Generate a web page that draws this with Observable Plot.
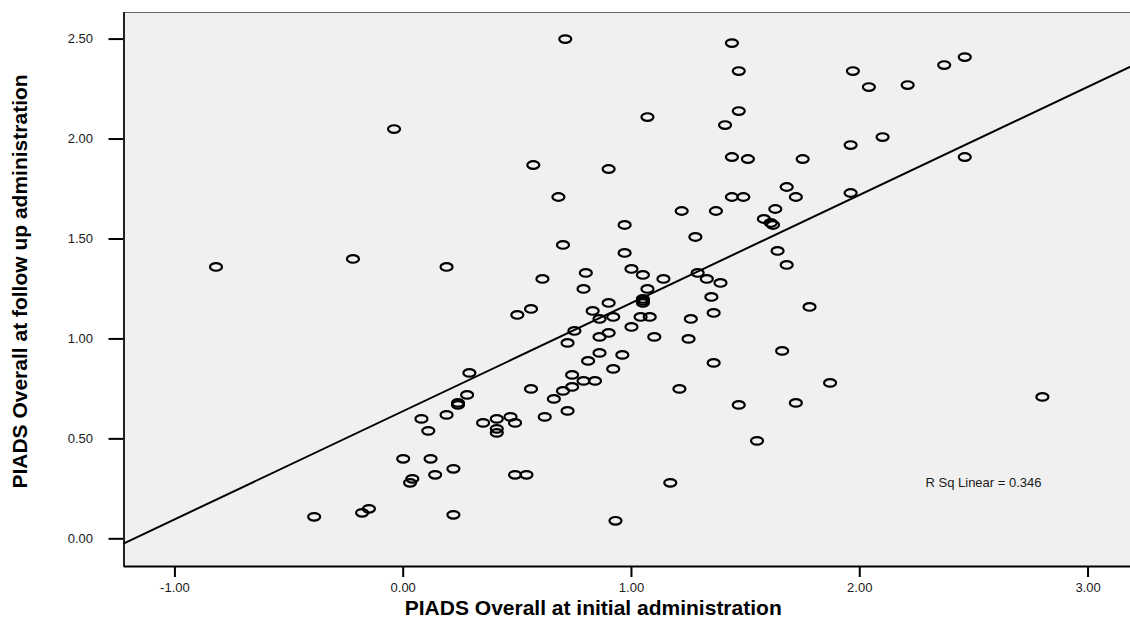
<!DOCTYPE html>
<html>
<head>
<meta charset="utf-8">
<script src="https://cdn.jsdelivr.net/npm/d3@7"></script>
<script src="https://cdn.jsdelivr.net/npm/@observablehq/plot@0.6"></script>
<style>
  html, body { margin: 0; padding: 0; background: #ffffff; }
  #chart { width: 1130px; height: 627px; overflow: hidden; }
</style>
</head>
<body>
<div id="chart"></div>
<script>
// PIADS overall scores: initial administration (x) vs follow-up administration (y)
const initialScore = [
  -0.82, -0.22, -0.04, -0.39, -0.18, -0.15,
  0.00, 0.12, 0.14, 0.04, 0.03, 0.22, 0.22, 0.49, 0.54, 1.17, 0.93,
  0.29, 0.28, 0.24, 0.24, 0.19, 0.08, 0.11, 0.35, 0.41, 0.41, 0.41, 0.47, 0.49, 0.56, 0.19,
  0.50, 0.56, 0.61, 0.83, 0.90, 0.86, 0.92, 1.05, 1.05, 1.05, 1.04, 1.08, 1.00, 1.10,
  0.90, 0.86, 0.75, 0.72, 0.86, 0.96, 0.81, 0.92, 0.74, 0.74, 0.70, 0.79, 0.84, 0.66,
  0.72, 0.62, 1.26, 1.25, 1.36, 1.36, 1.21, 1.47, 1.55, 1.78, 1.66, 1.87, 1.72, 2.80,
  0.70, 0.97, 1.28, 0.80, 0.79, 1.00, 1.05, 1.14, 1.29, 1.33, 1.39, 1.35, 1.07, 1.64, 1.68,
  0.71, 1.44, 1.47, 1.07, 1.47, 1.41, 0.90, 1.44, 1.51, 1.75, 0.57, 0.68, 1.44, 1.49,
  1.22, 1.37, 0.97, 1.63, 1.58, 1.61, 1.62,
  1.97, 2.04, 2.21, 2.37, 2.46, 2.10, 1.96, 2.46, 1.68, 1.72, 1.96
];
const followUpScore = [
  1.36, 1.40, 2.05, 0.11, 0.13, 0.15,
  0.40, 0.40, 0.32, 0.30, 0.28, 0.35, 0.12, 0.32, 0.32, 0.28, 0.09,
  0.83, 0.72, 0.68, 0.67, 0.62, 0.60, 0.54, 0.58, 0.60, 0.55, 0.53, 0.61, 0.58, 0.75, 1.36,
  1.12, 1.15, 1.30, 1.14, 1.18, 1.10, 1.11, 1.20, 1.19, 1.18, 1.11, 1.11, 1.06, 1.01,
  1.03, 1.01, 1.04, 0.98, 0.93, 0.92, 0.89, 0.85, 0.82, 0.76, 0.74, 0.79, 0.79, 0.70,
  0.64, 0.61, 1.10, 1.00, 1.13, 0.88, 0.75, 0.67, 0.49, 1.16, 0.94, 0.78, 0.68, 0.71,
  1.47, 1.43, 1.51, 1.33, 1.25, 1.35, 1.32, 1.30, 1.33, 1.30, 1.28, 1.21, 1.25, 1.44, 1.37,
  2.50, 2.48, 2.34, 2.11, 2.14, 2.07, 1.85, 1.91, 1.90, 1.90, 1.87, 1.71, 1.71, 1.71,
  1.64, 1.64, 1.57, 1.65, 1.60, 1.58, 1.57,
  2.34, 2.26, 2.27, 2.37, 2.41, 2.01, 1.97, 1.91, 1.76, 1.71, 1.73
];

const xTicks = [-1, 0, 1, 2, 3];
const yTicks = [0, 0.5, 1, 1.5, 2, 2.5];
const xDomain = [-1.223, 3.186];
const yDomain = [-0.1385, 2.633];

// Linear fit (follow-up on initial) and its R squared
const fitIntercept = 0.639;
const fitSlope = 0.541;
const rSquared = 0.346;

const xTitle = "PIADS Overall at initial administration";
const yTitle = "PIADS Overall at follow up administration";

const points = initialScore.map((x, i) => ({x, y: followUpScore[i]}));
const fitLine = xDomain.map(x => ({x, y: fitIntercept + fitSlope * x}));

// Open elliptical marker, wider than tall
const ellipse = {
  draw(context) {
    const rx = 6, ry = 3.8, k = 0.5523;
    context.moveTo(rx, 0);
    context.bezierCurveTo(rx, ry * k, rx * k, ry, 0, ry);
    context.bezierCurveTo(-rx * k, ry, -rx, ry * k, -rx, 0);
    context.bezierCurveTo(-rx, -ry * k, -rx * k, -ry, 0, -ry);
    context.bezierCurveTo(rx * k, -ry, rx, -ry * k, rx, 0);
    context.closePath();
  }
};

const fmt = d => d.toFixed(2);

const chart = Plot.plot({
  width: 1130,
  height: 627,
  marginLeft: 123.5,
  marginRight: 0,
  marginTop: 12,
  marginBottom: 61,
  style: {fontFamily: "'Liberation Sans', Arial, sans-serif", fontSize: "13px", color: "#1a1a1a", background: "#ffffff"},
  x: {domain: xDomain},
  y: {domain: yDomain},
  marks: [
    Plot.frame({fill: "#f0f0f0", stroke: null}),
    Plot.axisX({ticks: xTicks, tickFormat: fmt, tickSize: 11, tickPadding: 5, strokeWidth: 2, stroke: "#000", label: null, fontSize: 13}),
    Plot.axisY({ticks: yTicks, tickFormat: fmt, tickSize: 15, tickPadding: 16, strokeWidth: 2, stroke: "#000", label: null, fontSize: 13}),
    Plot.ruleY([yDomain[1]], {stroke: "#666", strokeWidth: 1.2}),
    Plot.ruleX([xDomain[0]], {stroke: "#222", strokeWidth: 2}),
    Plot.ruleY([yDomain[0]], {stroke: "#000", strokeWidth: 2}),
    Plot.line(fitLine, {x: "x", y: "y", stroke: "#000", strokeWidth: 2}),
    Plot.dot(points, {x: "x", y: "y", symbol: ellipse, fill: "none", stroke: "#000", strokeWidth: 2.2}),
    Plot.text([`R Sq Linear = ${rSquared.toFixed(3)}`], {frameAnchor: "bottom-right", dx: -89, dy: -80, textAnchor: "end", fontSize: 13, fill: "#1a1a1a"}),
    Plot.text([xTitle], {frameAnchor: "bottom", textAnchor: "middle", dx: -34, dy: 48, fontSize: 21, fontWeight: "bold", fill: "#000"}),
    Plot.text([yTitle], {frameAnchor: "left", textAnchor: "middle", rotate: -90, dx: -104, dy: -8, fontSize: 21, fontWeight: "bold", fill: "#000"})
  ]
});

document.getElementById("chart").appendChild(chart);
</script>
</body>
</html>
